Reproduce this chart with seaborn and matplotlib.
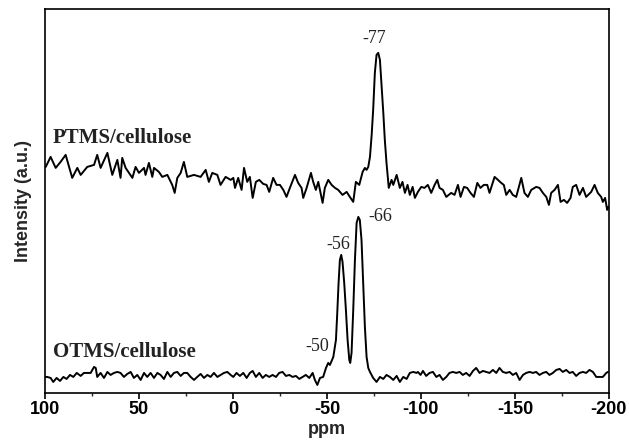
import matplotlib
import numpy as np
import pandas as pd

matplotlib.use("Agg")
import matplotlib.pyplot as plt
import seaborn as sns
from matplotlib.ticker import MultipleLocator


# PTMS/cellulose trace (ppm, intensity a.u.)
PTMS_PPM = [
    99.6, 97.0, 94.3, 91.7, 89.0, 85.5, 82.8, 81.0, 77.5, 73.9, 72.2, 70.4, 66.8, 64.2, 61.5,
    59.8, 58.9, 57.1, 53.5, 51.8, 50.0, 47.3, 46.5, 44.7, 42.9, 42.0, 39.4, 37.6, 34.9, 32.3,
    31.0, 29.6, 27.8, 26.1, 24.3, 20.7, 17.2, 14.5, 12.8, 11.0, 8.3, 6.6, 3.9, 1.2,
    -0.2, -1.1, -2.8, -4.6, -5.9, -7.6, -9.0, -10.5, -12.2, -14.0, -16.1, -17.9, -19.3, -21.4,
    -23.2, -25.0, -26.8, -28.5, -30.3, -33.0, -34.7, -36.5, -37.4, -39.2, -41.5, -42.7, -44.1,
    -45.4, -47.7, -48.9, -50.7, -52.5, -54.3, -56.0, -58.3, -60.5, -62.2, -64.0, -65.4, -67.2,
    -69.0, -70.2, -71.1, -72.0, -72.9, -73.8, -74.6, -75.5, -76.4, -77.3, -78.2, -79.1, -80.0,
    -80.8, -81.7, -82.9, -84.4, -85.3, -87.1, -88.8, -90.2, -91.5, -92.9, -94.1, -95.6, -96.8,
    -98.4, -100.2, -101.9, -103.7, -105.5, -107.3, -108.7, -109.9, -111.7, -113.5, -116.1,
    -117.9, -119.7, -121.1, -122.9, -124.6, -126.4, -128.2, -130.0, -131.7, -133.5, -135.3,
    -136.5, -139.2, -141.0, -142.7, -144.1, -145.4, -147.2, -148.9, -150.7, -153.4, -155.1,
    -156.9, -158.7, -161.3, -163.1, -164.9, -166.7, -168.1, -169.3, -171.1, -172.9, -174.3,
    -176.1, -177.8, -179.6, -180.8, -182.6, -184.4, -186.2, -187.9, -190.6, -192.4, -194.1,
    -195.9, -196.8, -198.0, -199.1, -199.8,
]
PTMS_INT = [
    226, 236, 225, 231, 238, 215, 225, 218, 226, 228, 238, 225, 240, 218, 233,
    215, 235, 225, 215, 226, 220, 225, 218, 230, 216, 225, 221, 216, 218, 208,
    200, 215, 220, 231, 216, 218, 216, 223, 211, 220, 218, 208, 216, 213,
    215, 205, 215, 203, 225, 211, 216, 195, 211, 213, 209, 208, 201, 215,
    208, 208, 203, 196, 205, 218, 210, 205, 195, 205, 220, 211, 203,
    211, 190, 205, 213, 208, 205, 203, 198, 201, 196, 191, 211, 208,
    221, 225, 223, 226, 236, 258, 283, 320, 338, 340, 333, 306, 280,
    253, 230, 205, 213, 208, 218, 205, 211, 200, 208, 198, 206, 195,
    201, 206, 205, 208, 200, 208, 213, 205, 203, 196, 200,
    198, 208, 196, 206, 205, 200, 196, 210, 205, 208, 208,
    200, 216, 213, 210, 208, 198, 203, 198, 196, 215, 200,
    196, 203, 206, 205, 200, 196, 188, 200, 203, 208, 191,
    193, 190, 195, 206, 208, 198, 205, 196, 201, 208, 200,
    196, 191, 195, 183, 186,
]

# OTMS/cellulose trace
OTMS_PPM = [
    100.5, 98.8, 97.0, 95.6, 93.8, 92.0, 90.2, 88.5, 86.7, 84.9, 83.1, 81.0, 79.3, 77.5, 75.7,
    73.9, 73.0, 72.2, 70.4, 68.6, 66.8, 65.1, 63.3, 61.5, 59.8, 58.0, 56.2, 54.4, 52.7, 50.9,
    49.1, 47.3, 45.6, 43.8, 42.0, 40.2, 38.5, 36.7, 34.9, 33.1, 31.4, 29.6, 27.8, 26.1, 24.3,
    22.5, 20.7, 19.0, 17.2, 15.4, 13.6, 11.9, 10.1, 8.3, 6.6, 4.8, 3.0, 1.2,
    -0.2, -1.9, -3.7, -5.5, -7.3, -9.0, -10.5, -12.2, -14.0, -15.8, -17.5, -19.3, -21.1, -22.9,
    -24.6, -26.4, -28.2, -30.0, -31.7, -33.5, -35.3, -37.1, -38.8, -40.6, -42.4, -43.6, -44.9,
    -46.3, -48.0, -49.5, -50.7, -51.6, -53.4, -54.8, -55.5, -56.2, -56.9, -57.6, -58.3, -59.2,
    -60.1, -61.0, -61.9, -62.4, -63.1, -64.0, -64.9, -65.8, -66.7, -67.5, -68.4, -69.3, -70.2,
    -71.1, -72.0, -72.9, -74.6, -76.4, -78.2, -80.0, -81.7, -83.5, -85.3, -87.1, -88.8, -90.6,
    -92.4, -94.1, -95.9, -97.7,
    -98.4, -99.8, -101.1, -102.8, -104.6, -106.4, -108.2, -109.9, -111.7, -113.5, -115.2,
    -117.0, -118.8, -120.6, -122.3, -124.1, -125.9, -127.7, -129.4, -131.2, -133.0, -134.8,
    -136.5, -138.3, -140.1, -141.8, -143.6, -145.4, -147.2, -148.9, -150.7, -152.5, -154.3,
    -156.0, -157.8, -159.6, -161.3, -163.1, -164.9, -166.7, -168.4, -170.2, -172.0, -173.8,
    -175.5, -177.3, -179.1, -180.8, -182.6, -184.4, -186.2, -187.9, -189.7, -191.5, -193.3,
    -195.0, -196.8, -198.6, -199.5,
]
OTMS_INT = [
    16, 16, 15, 11, 15, 12, 16, 14, 18, 16, 20, 17, 20, 20, 20,
    26, 25, 16, 20, 15, 21, 18, 20, 21, 20, 16, 19, 21, 15, 18,
    13, 20, 16, 20, 15, 20, 18, 14, 21, 16, 20, 21, 17, 20, 20,
    16, 13, 16, 19, 15, 18, 16, 20, 16, 18, 20, 21, 18,
    16, 20, 17, 20, 15, 20, 22, 16, 20, 15, 18, 16, 18, 16,
    20, 21, 17, 18, 16, 17, 14, 16, 18, 15, 20, 13, 8,
    15, 16, 25, 30, 28, 36, 53, 80, 110, 133, 138, 131, 110,
    83, 53, 33, 30, 40, 83, 133, 170, 176, 173, 153, 110, 66,
    36, 25, 21, 15, 11, 16, 14, 18, 16, 13, 17, 11, 16,
    14, 20, 21, 20,
    21, 18, 22, 17, 20, 21, 16, 18, 13, 16, 20,
    21, 20, 21, 18, 20, 17, 22, 25, 20, 22, 21,
    20, 23, 20, 25, 21, 20, 21, 18, 20, 13, 18,
    20, 21, 20, 21, 18, 20, 21, 18, 20, 23, 24,
    21, 23, 20, 21, 17, 20, 21, 20, 23, 21, 16,
    16, 16, 20, 21,
]

X_TICKS = [100, 50, 0, -50, -100, -150, -200]

# labels: text, ppm, intensity
PEAK_LABELS = [("-77", -75.0, 354), ("-66", -78.6, 176), ("-56", -55.9, 148), ("-50", -44.7, 46)]
TRACE_LABELS = [("PTMS/cellulose", 95.7, 255), ("OTMS/cellulose", 95.7, 41)]


def main() -> None:
    sns.set_theme(style="ticks")
    plt.rcParams["font.family"] = ["Liberation Sans", "DejaVu Sans"]
    plt.rcParams["axes.linewidth"] = 1.2
    plt.rcParams["axes.unicode_minus"] = False

    fig = plt.figure(figsize=(6.29, 4.43), dpi=100)
    ax = fig.add_axes([0.0715, 0.113, 0.8965, 0.867])

    for ppm, inten in [(PTMS_PPM, PTMS_INT), (OTMS_PPM, OTMS_INT)]:
        df = pd.DataFrame({"ppm": ppm, "intensity": inten})
        sns.lineplot(data=df, x="ppm", y="intensity", ax=ax, color="black",
                     linewidth=1.4, estimator=None, sort=False)

    ax.set_xlim(100, -200)
    ax.set_ylim(0, 384)
    ax.set_xticks(X_TICKS)
    ax.xaxis.set_minor_locator(MultipleLocator(25))
    ax.tick_params(axis="x", which="major", direction="out", length=4, width=1.2,
                   labelsize=13, pad=2, colors="black")
    ax.tick_params(axis="x", which="minor", direction="out", length=2.5, width=1.0)
    for lbl in ax.get_xticklabels():
        lbl.set_fontweight("bold")
    ax.set_yticks([])
    for spine in ax.spines.values():
        spine.set_visible(True)
        spine.set_color("black")

    ax.set_xlabel("ppm", fontsize=13, fontweight="bold", labelpad=2)
    ax.set_ylabel("Intensity (a.u.)", fontsize=13, fontweight="bold", labelpad=9)

    for text, x, y in TRACE_LABELS:
        ax.text(x, y, text, fontsize=15, fontweight="bold", family=["Liberation Serif"],
                ha="left", va="center", color="#222222")
    for text, x, y in PEAK_LABELS:
        ax.text(x, y, text, fontsize=13, family=["Liberation Serif"],
                ha="center", va="center", color="#222222")

    fig.savefig("out.png", dpi=100)
    plt.close(fig)


if __name__ == "__main__":
    main()
